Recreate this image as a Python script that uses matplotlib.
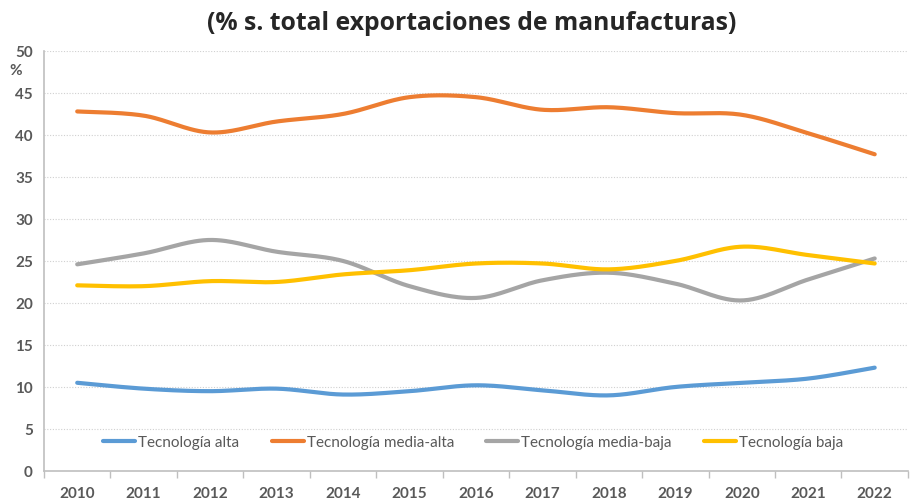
import numpy as np
import matplotlib
matplotlib.use("Agg")
import matplotlib.pyplot as plt
from matplotlib.lines import Line2D

years = ["2010", "2011", "2012", "2013", "2014", "2015", "2016",
         "2017", "2018", "2019", "2020", "2021", "2022"]
alta = [10.5, 9.8, 9.5, 9.8, 9.1, 9.5, 10.2, 9.6, 9.0, 10.0, 10.5, 11.0, 12.3]
media_alta = [42.8, 42.3, 40.3, 41.6, 42.5, 44.5, 44.5, 43.0, 43.3, 42.6, 42.4, 40.2, 37.7]
media_baja = [24.6, 25.9, 27.5, 26.1, 25.0, 22.0, 20.6, 22.7, 23.6, 22.3, 20.3, 22.8, 25.3]
baja = [22.1, 22.0, 22.6, 22.5, 23.4, 23.9, 24.7, 24.7, 24.0, 25.0, 26.7, 25.7, 24.7]

series_names = ["Tecnología alta", "Tecnología media-alta",
                "Tecnología media-baja", "Tecnología baja"]
colors = ["#5B9BD5", "#ED7D31", "#A5A5A5", "#FFC000"]
title = "(% s. total exportaciones de manufacturas)"


def smooth(xs, ys, n=30):
    """Excel-like smoothed path (cubic Bezier, Catmull-Rom control points)."""
    xs = np.asarray(xs, float)
    ys = np.asarray(ys, float)
    px, py = [], []
    m = len(xs)
    for i in range(m - 1):
        x0, y0 = (xs[i - 1], ys[i - 1]) if i > 0 else (xs[i], ys[i])
        x1, y1 = xs[i], ys[i]
        x2, y2 = xs[i + 1], ys[i + 1]
        x3, y3 = (xs[i + 2], ys[i + 2]) if i + 2 < m else (xs[i + 1], ys[i + 1])
        c1x, c1y = x1 + (x2 - x0) / 6, y1 + (y2 - y0) / 6
        c2x, c2y = x2 - (x3 - x1) / 6, y2 - (y3 - y1) / 6
        t = np.linspace(0, 1, n, endpoint=(i == m - 2))
        bx = (1 - t) ** 3 * x1 + 3 * (1 - t) ** 2 * t * c1x + 3 * (1 - t) * t ** 2 * c2x + t ** 3 * x2
        by = (1 - t) ** 3 * y1 + 3 * (1 - t) ** 2 * t * c1y + 3 * (1 - t) * t ** 2 * c2y + t ** 3 * y2
        px.extend(bx)
        py.extend(by)
    return np.array(px), np.array(py)


fig = plt.figure(figsize=(9.24, 5.02), dpi=100)
ax = fig.add_axes([0.0476, 0.0598, 0.935, 0.8367])

x = np.arange(len(years))
for vals, c in zip([alta, media_alta, media_baja, baja], colors):
    sx, sy = smooth(x, vals)
    ax.plot(sx, sy, color=c, lw=3.0, solid_capstyle="round", zorder=3)

ax.set_xlim(-0.5, len(years) - 0.5)
ax.set_ylim(0, 50)
ax.set_yticks(np.arange(0, 51, 5))
ax.set_xticks(x)
ax.set_xticklabels(years)
ax.set_xticks(np.arange(-0.5, len(years), 1.0), minor=True)

tick_color = "#595959"
for lab in ax.get_xticklabels() + ax.get_yticklabels():
    lab.set_fontfamily("Lato")
    lab.set_fontweight("bold")
    lab.set_color(tick_color)
    lab.set_fontsize(11)

ax.tick_params(axis="x", which="major", length=0, pad=11)
ax.tick_params(axis="x", which="minor", length=5, color="#BFBFBF", width=1, direction="out")
ax.tick_params(axis="y", length=0, pad=8)

ax.yaxis.grid(True, linestyle=(0, (1, 1.5)), color="#D0D0D0", lw=0.8)
ax.set_axisbelow(True)
for s in ["top", "right"]:
    ax.spines[s].set_visible(False)
for s in ["left", "bottom"]:
    ax.spines[s].set_color("#BFBFBF")
    ax.spines[s].set_linewidth(1.2)

ax.text(-0.026, 47.7, "%", transform=ax.get_yaxis_transform(), ha="right", va="center",
        fontsize=11, fontweight="bold", color=tick_color, family="Lato")

fig.text(0.51, 0.953, title, ha="center", va="center", fontsize=17.8,
         fontweight="bold", color="#262626", family="Open Sans")

handles = [Line2D([0], [0], color=c, lw=3.0, solid_capstyle="round") for c in colors]
leg = ax.legend(handles, series_names, loc="center", bbox_to_anchor=(0.497, 0.069),
                ncol=4, frameon=False, handlelength=2.1, columnspacing=2.1,
                handletextpad=0.2, prop={"family": "Lato", "size": 11})
for t in leg.get_texts():
    t.set_color(tick_color)

fig.savefig("out.png", dpi=100)
